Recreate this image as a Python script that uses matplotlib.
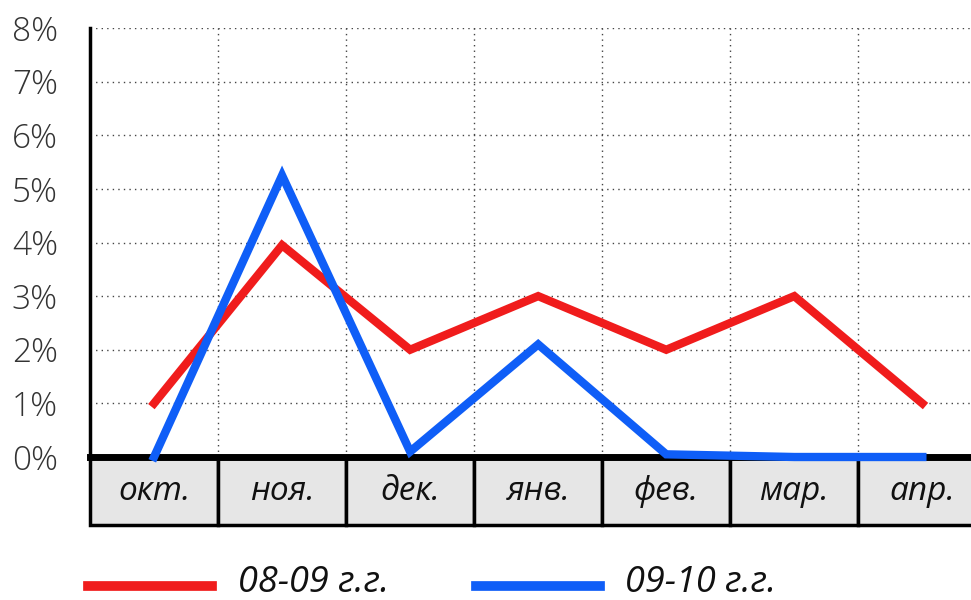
import matplotlib
matplotlib.use("Agg")
import matplotlib.pyplot as plt
from matplotlib.patches import Rectangle
from matplotlib.lines import Line2D
import matplotlib.transforms as mtransforms

plt.rcParams['font.family'] = ['Open Sans', 'DejaVu Sans']

# data
months = ['окт.', 'ноя.', 'дек.', 'янв.', 'фев.', 'мар.', 'апр.']
s_0809 = [1.0, 3.95, 2.0, 3.0, 2.0, 3.0, 1.0]
s_0910 = [0.0, 5.25, 0.1, 2.1, 0.05, 0.0, 0.0]
yticks = [0, 1, 2, 3, 4, 5, 6, 7, 8]
ytick_labels = ['0%', '1%', '2%', '3%', '4%', '5%', '6%', '7%', '8%']
legend_names = ['08-09 г.г.', '09-10 г.г.']

red = '#f01c1c'
blue = '#0f5ef7'

fig = plt.figure(figsize=(9.71, 6.0), dpi=100)
W, H = 971, 600
ax = fig.add_axes([90 / W, (H - 457) / H, (W - 90) / W, (457 - 28) / H])

x = list(range(len(months)))
ax.set_xlim(-0.5, 6.38)
ax.set_ylim(0, 8)

# grid
for yv in yticks[1:]:
    ax.axhline(yv, color='#444444', lw=1.0, ls=(0, (1, 3)), zorder=1)
for xv in x[:-1]:
    ax.axvline(xv + 0.5, color='#444444', lw=1.0, ls=(0, (1, 3)), zorder=1)

ax.plot(x, s_0809, color=red, lw=6, solid_joinstyle='miter', zorder=3, clip_on=False)
ax.plot(x, s_0910, color=blue, lw=6, solid_joinstyle='miter', zorder=4, clip_on=False)

for side in ['top', 'right', 'bottom']:
    ax.spines[side].set_visible(False)
ax.spines['left'].set_linewidth(2.5)
ax.spines['left'].set_color('black')

ax.set_xticks([])
ax.set_yticks(yticks)
ax.set_yticklabels(ytick_labels, fontsize=24, fontweight='light', color='#333333')
ax.tick_params(axis='y', length=0, pad=23)

# category boxes under the axis
trans = mtransforms.blended_transform_factory(ax.transData, ax.transAxes)
box_h = 68 / 429
for i, m in enumerate(months):
    ax.add_patch(Rectangle((i - 0.5, -box_h), 1, box_h, transform=trans,
                           facecolor='#e6e6e6', edgecolor='black', lw=2.5,
                           clip_on=False, zorder=2))
    ax.text(i, -box_h / 2, m, transform=trans, ha='center', va='center',
            fontsize=24, style='italic', color='#111111', zorder=5)
ax.plot([-0.5, 6.38], [0, 0], color='black', lw=5, transform=trans,
        clip_on=False, zorder=3.5)

# legend
fig.add_artist(Line2D([88 / W, 212 / W], [(H - 586) / H] * 2, color=red, lw=7))
fig.text(238 / W, (H - 583) / H, legend_names[0], fontsize=26, style='italic',
         ha='left', va='center', color='#111111')
fig.add_artist(Line2D([476 / W, 600 / W], [(H - 586) / H] * 2, color=blue, lw=7))
fig.text(625 / W, (H - 583) / H, legend_names[1], fontsize=26, style='italic',
         ha='left', va='center', color='#111111')

fig.savefig('out.png', dpi=100, facecolor='white')
